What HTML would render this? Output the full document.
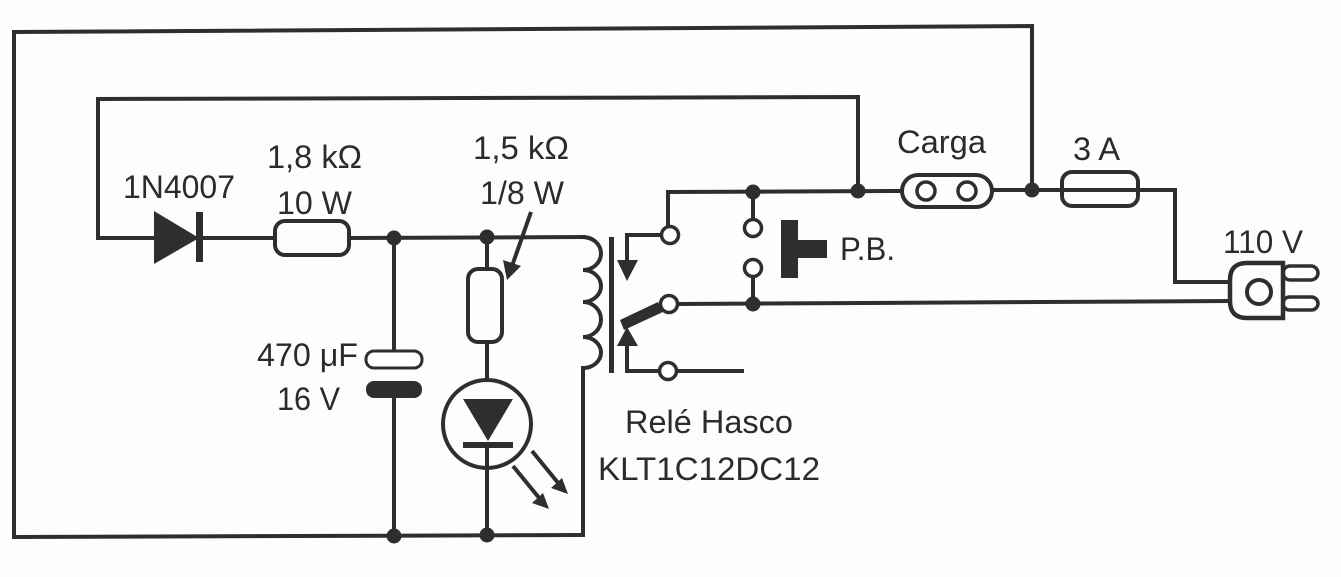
<!DOCTYPE html>
<html>
<head>
<meta charset="utf-8">
<style>
html,body{margin:0;padding:0;background:#ffffff;}
svg{display:block;}
text{font-family:"Liberation Sans",Arial,sans-serif;font-size:32px;fill:#2b2b2b;}
</style>
</head>
<body>
<svg width="1341" height="577" viewBox="0 0 1341 577" xmlns="http://www.w3.org/2000/svg">
<rect x="0" y="0" width="1341" height="577" fill="#fdfdfd"/>
<g stroke="#2e2e2e" stroke-width="4" fill="none" stroke-linejoin="miter" stroke-linecap="square">
  <!-- outer loop -->
  <polyline points="1032,190 1032,26 14,32 14,537 583,535"/>
  <!-- inner loop -->
  <polyline points="858,190 858,97 98,99 98,238 156,238"/>
  <!-- diode to resistor -->
  <line x1="202" y1="238" x2="275" y2="238"/>
  <rect x="275" y="221" width="74" height="34" rx="10"/>
  <!-- resistor to coil -->
  <line x1="349" y1="238" x2="583" y2="237"/>
  <!-- capacitor column -->
  <line x1="394" y1="238" x2="394" y2="351"/>
  <line x1="394" y1="398" x2="394" y2="536"/>
  <!-- LED column -->
  <line x1="487" y1="237" x2="487" y2="269"/>
  <rect x="468" y="269" width="34" height="73" rx="10"/>
  <line x1="487" y1="342" x2="487" y2="380"/>
  <line x1="487" y1="446" x2="487" y2="535"/>
  <circle cx="487" cy="424" r="44"/>
  <!-- coil -->
  <path d="M583 237 A18 16.5 0 0 1 583 270 A18 16 0 0 1 583 302 A18 17.5 0 0 1 583 337 A18 15.5 0 0 1 583 368 L583 535"/>
  <!-- relay upper contact -->
  <polyline points="661,235 627,235 627,262"/>
  <!-- relay lower contact -->
  <polyline points="627,345 627,371 660,371"/>
  <line x1="677" y1="371" x2="742" y2="371"/>
  <!-- NO line up to top wire -->
  <polyline points="668,226 668,192 902,191"/>
  <!-- carga to fuse -->
  <line x1="992" y1="190" x2="1175" y2="190"/>
  <polyline points="1175,190 1175,282 1230,282"/>
  <!-- bottom wire from middle contact to plug -->
  <line x1="678" y1="304" x2="1230" y2="301"/>
  <!-- PB -->
  <line x1="753" y1="192" x2="753" y2="219"/>
  <line x1="753" y1="277" x2="753" y2="304"/>
  <!-- carga pill -->
  <rect x="902" y="175" width="90" height="32" rx="16"/>
  <!-- fuse -->
  <rect x="1062" y="172" width="76" height="34" rx="10"/>
  <!-- plug -->
  <path d="M1283 263 L1247 263 Q1230 263 1230 280 L1230 301 Q1230 318 1247 318 L1283 318 Z" stroke-width="4.5"/>
  <circle cx="1259" cy="292" r="12"/>
  <rect x="1283" y="266" width="35" height="14" rx="7" stroke-width="3.5"/>
  <rect x="1283" y="297" width="35" height="13" rx="6.5" stroke-width="3.5"/>
</g>
<g stroke="#2e2e2e" stroke-width="3.5" fill="#fff">
  <circle cx="670" cy="235" r="8.5"/>
  <circle cx="669" cy="304" r="8.5"/>
  <circle cx="668" cy="371" r="8.5"/>
  <circle cx="753" cy="228" r="8.5"/>
  <circle cx="753" cy="268" r="8.5"/>
  <circle cx="926" cy="191" r="9"/>
  <circle cx="967" cy="191" r="9"/>
  <!-- capacitor top plate -->
  <rect x="366" y="351" width="56" height="17" rx="8" stroke-width="3"/>
</g>
<g fill="#2e2e2e" stroke="none">
  <!-- diode -->
  <polygon points="154,211 154,264 199,238"/>
  <rect x="196" y="212" width="7" height="50"/>
  <!-- capacitor bottom plate -->
  <rect x="366" y="381" width="56" height="17" rx="8"/>
  <!-- LED -->
  <polygon points="463,399 513,399 488,441"/>
  <rect x="463" y="442" width="50" height="6"/>
  <!-- relay core -->
  <rect x="609" y="237" width="5" height="136"/>
  <!-- relay arrows -->
  <polygon points="617,260 638,260 627,281"/>
  <polygon points="627,327 617,346 638,346"/>
  <!-- wiper -->
  <polygon points="620,320 658,302 663,312 624,330"/>
  <!-- PB button -->
  <rect x="781" y="220" width="17" height="58"/>
  <rect x="781" y="240" width="46" height="18"/>
  <!-- junction dots -->
  <circle cx="394" cy="238" r="7.5"/>
  <circle cx="487" cy="237" r="7.5"/>
  <circle cx="394" cy="536" r="7.5"/>
  <circle cx="487" cy="535" r="7.5"/>
  <circle cx="858" cy="191" r="7.5"/>
  <circle cx="1032" cy="190" r="7.5"/>
  <circle cx="753" cy="192" r="7.5"/>
  <circle cx="753" cy="304" r="7.5"/>
  <!-- variable resistor arrowhead -->
  <polygon points="507,280 503,260 521,266"/>
  <!-- LED arrowheads -->
  <polygon points="549,509 532,503 543,493"/>
  <polygon points="568,494 551,488 562,478"/>
</g>
<g stroke="#2e2e2e" stroke-width="4" fill="none" stroke-linecap="butt">
  <line x1="531" y1="212" x2="512" y2="266"/>
  <line x1="513" y1="466" x2="540" y2="499"/>
  <line x1="532" y1="451" x2="559" y2="484"/>
</g>
<text x="123" y="198" textLength="112" lengthAdjust="spacingAndGlyphs">1N4007</text>
<text x="267" y="168" textLength="95" lengthAdjust="spacingAndGlyphs">1,8 kΩ</text>
<text x="277" y="214" textLength="75" lengthAdjust="spacingAndGlyphs">10 W</text>
<text x="473" y="159" textLength="96" lengthAdjust="spacingAndGlyphs">1,5 kΩ</text>
<text x="480" y="204" textLength="84" lengthAdjust="spacingAndGlyphs">1/8 W</text>
<text x="257" y="366" textLength="101" lengthAdjust="spacingAndGlyphs">470 μF</text>
<text x="277" y="410" textLength="63" lengthAdjust="spacingAndGlyphs">16 V</text>
<text x="897" y="153" textLength="89" lengthAdjust="spacingAndGlyphs">Carga</text>
<text x="1073" y="160" textLength="47" lengthAdjust="spacingAndGlyphs">3 A</text>
<text x="1223" y="253" textLength="80" lengthAdjust="spacingAndGlyphs">110 V</text>
<text x="840" y="260" textLength="55" lengthAdjust="spacingAndGlyphs">P.B.</text>
<text x="625" y="433" textLength="168" lengthAdjust="spacingAndGlyphs">Relé Hasco</text>
<text x="598" y="480" textLength="222" lengthAdjust="spacingAndGlyphs">KLT1C12DC12</text>
</svg>
</body>
</html>
